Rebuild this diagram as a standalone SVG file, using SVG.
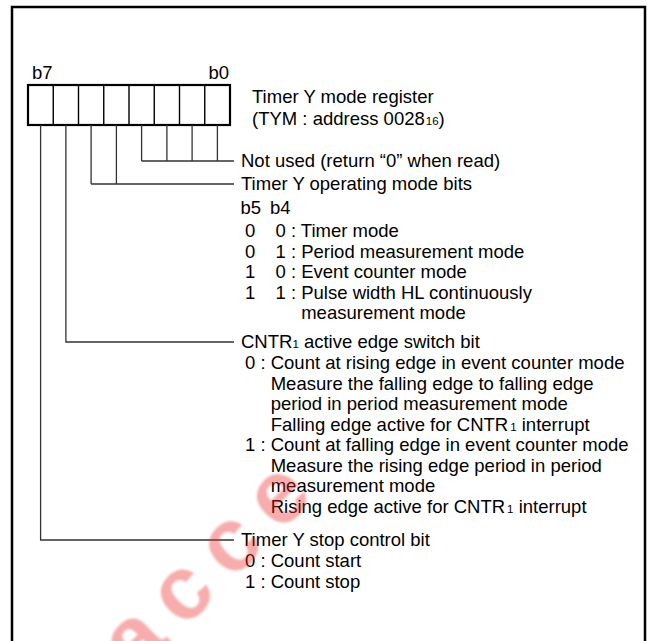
<svg xmlns="http://www.w3.org/2000/svg" width="648" height="641" viewBox="0 0 648 641">
<defs>
  <filter id="soft" x="-10%" y="-10%" width="120%" height="120%">
    <feGaussianBlur stdDeviation="1.3"/>
  </filter>
</defs>
<style>
  .t { font-family: "Liberation Sans", Arial, sans-serif; font-size: 18.5px; fill: #000; }
  .sub { font-size: 11.5px; }
  .frame { fill: none; stroke: #000; stroke-width: 2.5; }
  .box { fill: #fff; stroke: #000; stroke-width: 2.2; }
  .cell { stroke: #000; stroke-width: 1.4; }
  .conn { fill: none; stroke: #333; stroke-width: 1.3; }
  .wm { font-family: "Liberation Sans", Arial, sans-serif; font-weight: bold; font-size: 90px; fill: #eb2828; opacity: 0.38; letter-spacing: 18px; }
</style>
<rect x="0" y="0" width="648" height="641" fill="#fff"/>
<path class="frame" d="M12,645 V7 H645 V645"/>

<g id="register">
  <text class="t" x="32" y="79">b7</text>
  <text class="t" x="229" y="79" text-anchor="end">b0</text>
  <rect class="box" x="28" y="85" width="202" height="40"/>
  <path class="cell" d="M53.25,85V125M78.5,85V125M103.75,85V125M129,85V125M154.25,85V125M179.5,85V125M204.75,85V125"/>
  <text class="t" x="252" y="103">Timer Y mode register</text>
  <text class="t" x="252" y="125">(TYM : address 0028<tspan class="sub" dx="1">16</tspan>)</text>
</g>

<g id="connectors">
  <path class="conn" d="M141.6,125V161M166.9,125V161M192.1,125V161M217.4,125V161M141.6,161H234"/>
  <path class="conn" d="M91.1,125V184M116.4,125V184M91.1,184H234"/>
  <path class="conn" d="M65.9,125V342H234"/>
  <path class="conn" d="M40.6,125V540H234"/>
</g>

<g id="not-used">
  <text class="t" x="241" y="167">Not used (return “0” when read)</text>
</g>

<g id="operating-mode">
  <text class="t" x="241" y="190">Timer Y operating mode bits</text>
  <text class="t" x="240.5" y="214">b5</text>
  <text class="t" x="270" y="214">b4</text>
  <text class="t" x="245" y="237">0</text><text class="t" x="275.5" y="237">0 : Timer mode</text>
  <text class="t" x="245" y="257.5">0</text><text class="t" x="275.5" y="257.5">1 : Period measurement mode</text>
  <text class="t" x="245" y="278">1</text><text class="t" x="275.5" y="278">0 : Event counter mode</text>
  <text class="t" x="245" y="298.5">1</text><text class="t" x="275.5" y="298.5">1 : Pulse width HL continuously</text>
  <text class="t" x="301.2" y="319">measurement mode</text>
</g>

<g id="edge-switch">
  <text class="t" x="241" y="348">CNTR<tspan class="sub">1</tspan> active edge switch bit</text>
  <text class="t" x="245" y="369">0 : Count at rising edge in event counter mode</text>
  <text class="t" x="270.7" y="389.5">Measure the falling edge to falling edge</text>
  <text class="t" x="270.7" y="410">period in period measurement mode</text>
  <text class="t" x="270.7" y="430.5">Falling edge active for CNTR<tspan class="sub" dx="2">1</tspan> interrupt</text>
  <text class="t" x="245" y="451">1 : Count at falling edge in event counter mode</text>
  <text class="t" x="270.7" y="471.5">Measure the rising edge period in period</text>
  <text class="t" x="270.7" y="492">measurement mode</text>
  <text class="t" x="270.7" y="512.5">Rising edge active for CNTR<tspan class="sub" dx="2">1</tspan> interrupt</text>
</g>

<g id="stop-control">
  <text class="t" x="241" y="546">Timer Y stop control bit</text>
  <text class="t" x="245" y="567">0 : Count start</text>
  <text class="t" x="245" y="588">1 : Count stop</text>
</g>

<g id="watermark" filter="url(#soft)">
  <text class="wm" x="135.7" y="677.3" transform="rotate(-45 135.7 677.3)">acce</text>
</g>
</svg>
